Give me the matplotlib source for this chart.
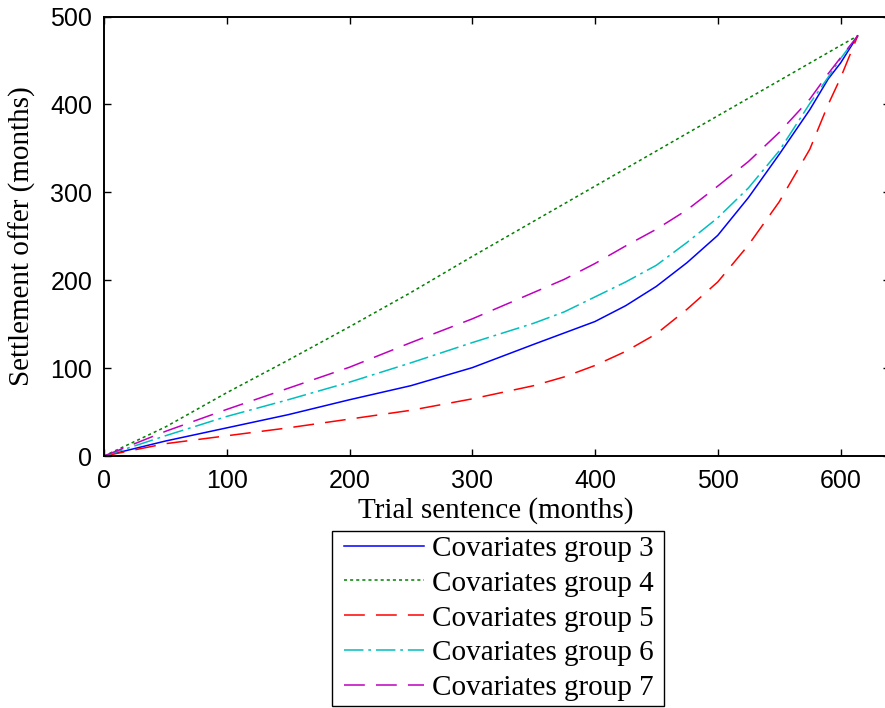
import matplotlib
matplotlib.use("Agg")
import matplotlib.pyplot as plt
from matplotlib.legend_handler import HandlerLine2D
from matplotlib.lines import Line2D

plt.rcParams['lines.scale_dashes'] = False

# ---- data ----
trial_sentence = [0, 50, 100, 150, 200, 250, 300, 350, 375, 400, 425, 450, 475, 500,
                  525, 550, 575, 590, 600, 614]
group3 = [0, 17, 32, 47, 64, 80, 100.5, 127, 140, 153, 171, 193, 220, 251,
          294, 343, 394, 429, 447, 478]
group4 = [0, 33, 72, 109, 147, 186, 227, 267, 287, 307, 327, 347, 367, 387,
          407, 427, 447, 459, 467, 478]
group5 = [0, 14, 23, 32, 42, 52, 65, 80, 90, 103, 119, 139, 167, 198,
          240, 289, 349, 400, 430, 478]
group6 = [0, 23, 45, 64, 84, 106, 129, 151, 164, 181, 198, 217, 243, 271,
          305, 347, 401, 431, 452, 478]
group7 = [0, 28, 53, 77, 101, 129, 156, 186, 201, 219, 239, 258, 280, 307,
          335, 368, 406, 435, 453, 478]

labels = ["Covariates group 3", "Covariates group 4", "Covariates group 5",
          "Covariates group 6", "Covariates group 7"]
x_ticks = [0, 100, 200, 300, 400, 500, 600]
y_ticks = [0, 100, 200, 300, 400, 500]

W, H = 885, 708
fig = plt.figure(figsize=(W / 100, H / 100), dpi=100)
ax_left, ax_right, ax_top, ax_bottom = 104, 889.6, 16.5, 456
ax = fig.add_axes([ax_left / W, (H - ax_bottom) / H,
                   (ax_right - ax_left) / W, (ax_bottom - ax_top) / H])

lw = 1.1
styles = [
    dict(color=(0, 0, 1), linestyle='-'),
    dict(color=(0, 0.5, 0), linestyle=(0, (2.2, 2.2))),
    dict(color=(1, 0, 0), linestyle=(0, (15, 8))),
    dict(color=(0, 0.75, 0.75), linestyle=(0, (14, 3.5, 2, 3.5))),
    dict(color=(0.75, 0, 0.75), linestyle=(0, (15, 8))),
]
series = [group3, group4, group5, group6, group7]
handles = []
for ys, st, lab in zip(series, styles, labels):
    h, = ax.plot(trial_sentence, ys, lw=lw, label=lab, **st)
    handles.append(h)

ax.set_xlim(0, 640)
ax.set_ylim(0, 500)
ax.set_xticks(x_ticks)
ax.set_yticks(y_ticks)

tick_font = dict(family=['Liberation Sans', 'DejaVu Sans'], size=18)
ax.set_xticklabels([str(v) for v in x_ticks], fontdict=tick_font)
ax.set_yticklabels([str(v) for v in y_ticks], fontdict=tick_font)
ax.tick_params(axis='both', direction='in', length=5, width=1.0,
               top=True, right=True, color='black')
ax.tick_params(axis='x', pad=9)
ax.tick_params(axis='y', pad=8.5)
for sp in ax.spines.values():
    sp.set_linewidth(1.4)
    sp.set_color('black')

label_font = dict(family=['Liberation Serif', 'DejaVu Serif'], size=21)
ax.set_xlabel("Trial sentence (months)", fontdict=label_font)
ax.set_ylabel("Settlement offer (months)", fontdict=label_font)
axw = ax_right - ax_left
axh = ax_bottom - ax_top
ax.xaxis.set_label_coords((496 - ax_left) / axw, (ax_bottom - 497) / axh)
ax.yaxis.set_label_coords((36 - ax_left) / axw, 0.5)

leg_top = 531
leg = ax.legend(handles=handles, labels=labels, loc='upper left',
                bbox_to_anchor=(332 / W, 1 - 706 / H, 332 / W, (706 - leg_top) / H),
                bbox_transform=fig.transFigure, mode='expand',
                borderaxespad=0, frameon=True, fancybox=False, framealpha=1,
                edgecolor='black',
                prop=dict(family=['Liberation Serif', 'DejaVu Serif'], size=21),
                handlelength=3.0, handletextpad=0.27, labelspacing=0.29, borderpad=0.15,
                handler_map={Line2D: HandlerLine2D(xpad=0.27)})
leg.get_frame().set_linewidth(1.0)

fig.savefig("out.png", dpi=100)
